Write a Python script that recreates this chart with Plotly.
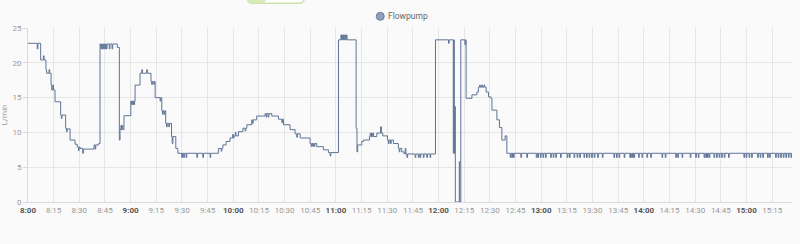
import pandas as pd
import plotly.graph_objects as go

# ---- data: minutes after 8:00 and flow (L/min), step changes ----
minutes = [
    0, 5.4, 5.8, 7.4, 9.0, 9.4, 10.5, 10.9, 12.3, 12.7,
    13.5, 13.9, 14.5, 14.9, 15.8, 19.1, 19.5, 19.9, 22.0, 22.5,
    22.9, 24.6, 27.5, 28.8, 29.5, 29.9, 30.4, 32.0, 32.4, 38.6,
    39.2, 39.6, 41.3, 42.1, 42.6, 43.0, 43.4, 43.8, 44.2, 44.6,
    45.0, 45.4, 45.8, 46.2, 47.5, 47.9, 49.1, 49.5, 52.2, 53.4,
    53.8, 54.3, 54.7, 55.0, 55.4, 56.1, 60.1, 60.5, 60.9, 61.3,
    61.7, 62.0, 62.3, 62.6, 65.5, 66.5, 66.9, 69.4, 69.8, 71.9,
    72.3, 72.7, 73.5, 73.9, 74.3, 77.2, 77.6, 78.2, 78.6, 79.0,
    79.6, 80.0, 80.5, 81.0, 81.4, 82.3, 82.7, 83.9, 84.3, 84.7,
    86.4, 87.6, 89.9, 90.3, 91.0, 91.4, 92.4, 92.8, 98.7, 99.1,
    102.2, 102.6, 106.4, 106.8, 111.3, 112.9, 113.3, 113.9, 115.8, 118.1,
    119.6, 120.0, 120.5, 121.2, 121.6, 123.0, 125.6, 126.9, 127.3, 127.9,
    130.8, 131.2, 131.6, 133.7, 138.6, 139.2, 139.6, 140.4, 140.8, 142.5,
    146.4, 148.4, 148.8, 149.3, 153.2, 156.1, 157.1, 157.5, 159.1, 164.9,
    165.5, 165.9, 166.4, 166.8, 167.3, 167.7, 168.8, 172.7, 175.6, 176.6,
    177.0, 181.5, 182.9, 183.3, 183.7, 184.1, 184.5, 184.9, 185.3, 185.7,
    186.1, 186.5, 191.8, 192.3, 192.7, 195.1, 196.1, 199.6, 200.0, 200.4,
    200.8, 201.2, 201.6, 202.0, 203.9, 206.1, 206.6, 207.4, 210.1, 210.7,
    211.1, 211.9, 212.3, 213.6, 216.5, 217.0, 217.4, 218.5, 219.9, 220.5,
    220.9, 221.5, 221.9, 226.3, 226.7, 228.2, 228.6, 229.2, 229.6, 231.1,
    231.5, 233.1, 233.5, 235.0, 235.4, 238.2, 245.8, 246.2, 248.6, 248.9,
    249.2, 249.5, 249.8, 252.1, 252.4, 253.0, 255.4, 255.8, 256.1, 259.5,
    262.4, 263.3, 264.0, 264.4, 265.2, 265.6, 266.5, 266.9, 267.8, 269.2,
    270.6, 271.2, 274.1, 275.6, 277.0, 278.9, 279.9, 281.9, 282.3, 282.8,
    283.2, 283.8, 284.2, 288.1, 288.5, 291.6, 292.0, 297.1, 297.5, 298.0,
    298.4, 299.5, 299.9, 301.0, 301.4, 302.5, 302.9, 305.5, 305.9, 307.0,
    307.4, 308.5, 308.9, 311.3, 311.7, 315.2, 315.6, 316.5, 316.9, 319.2,
    319.6, 321.0, 321.4, 322.5, 322.9, 325.0, 325.4, 326.5, 326.9, 328.0,
    328.4, 329.5, 329.9, 331.0, 331.4, 333.0, 333.4, 335.7, 336.1, 342.5,
    342.9, 344.0, 344.4, 345.5, 345.9, 348.5, 348.9, 351.8, 352.2, 352.6,
    353.0, 353.4, 353.8, 354.2, 354.6, 356.9, 357.3, 358.9, 359.3, 361.8,
    362.2, 364.0, 364.4, 370.6, 371.0, 372.5, 372.9, 378.6, 379.0, 379.8,
    380.2, 382.3, 382.7, 387.1, 387.5, 390.3, 390.7, 391.8, 392.2, 395.2,
    395.6, 396.2, 396.6, 397.2, 397.6, 398.2, 398.6, 401.0, 401.4, 402.5,
    402.9, 404.0, 404.4, 405.5, 405.9, 407.0, 407.4, 409.5, 409.9, 418.5,
    418.9, 419.8, 420.2, 421.5, 421.9, 423.0, 423.4, 426.5, 426.9, 428.0,
    428.4, 429.5, 429.9, 432.3, 432.7, 433.5, 433.9, 437.0, 437.4, 438.5,
    438.9, 440.0, 440.4, 441.5, 441.9, 443.0, 443.4, 444.5, 444.9, 446.0,
    446.4, 446.6,
]
flow = [
    22.8, 22.0, 22.8, 20.4, 21.0, 20.4, 19.0, 18.5, 19.0, 18.5,
    16.8, 16.1, 16.8, 16.1, 14.4, 12.5, 12.0, 12.5, 10.6, 10.1,
    10.5, 8.9, 8.3, 7.9, 7.4, 7.9, 7.7, 7.0, 7.6, 8.2,
    7.6, 8.2, 8.4, 22.7, 22.0, 22.7, 22.0, 22.7, 22.0, 22.7,
    22.0, 22.7, 22.0, 22.7, 22.0, 22.7, 22.0, 22.7, 22.2, 8.9,
    10.4, 11.0, 10.4, 11.0, 10.4, 12.4, 14.5, 14.0, 14.5, 14.0,
    14.5, 14.0, 14.5, 16.8, 18.5, 19.0, 18.5, 19.0, 18.5, 17.3,
    16.9, 17.3, 16.9, 17.3, 15.0, 14.5, 15.0, 13.1, 12.6, 13.1,
    12.6, 13.1, 11.3, 10.8, 11.3, 10.8, 11.3, 9.4, 8.4, 9.4,
    7.7, 7.0, 6.4, 7.0, 6.4, 7.0, 6.4, 7.0, 6.4, 7.0,
    6.4, 7.0, 6.4, 7.0, 7.7, 7.3, 7.7, 8.2, 8.7, 9.2,
    9.7, 9.2, 9.5, 10.0, 9.5, 10.1, 10.6, 10.2, 10.6, 11.1,
    11.8, 11.3, 11.8, 12.35, 12.7, 12.2, 12.7, 12.2, 12.7, 12.35,
    11.9, 11.4, 11.9, 11.1, 10.4, 9.8, 9.3, 9.8, 9.2, 8.4,
    8.0, 8.4, 8.0, 8.4, 8.0, 8.4, 7.95, 7.5, 7.1, 6.6,
    7.1, 23.3, 24.0, 23.3, 24.0, 23.3, 24.0, 23.3, 24.0, 23.3,
    24.0, 23.3, 10.6, 7.2, 8.2, 8.7, 8.9, 9.4, 9.9, 9.4,
    9.9, 9.4, 9.9, 9.4, 9.9, 10.8, 9.9, 9.5, 8.9, 8.4,
    8.9, 8.4, 8.9, 8.4, 7.7, 7.2, 7.7, 7.2, 6.9, 7.7,
    6.9, 6.4, 6.9, 6.4, 6.9, 6.4, 6.9, 6.4, 6.9, 6.4,
    6.9, 6.4, 6.9, 6.4, 6.9, 23.3, 22.8, 23.3, 7.0, 23.3,
    7.0, 13.7, 0.0, 5.8, 0.0, 23.3, 22.6, 23.3, 14.9, 15.4,
    15.8, 16.5, 16.8, 16.5, 16.8, 16.5, 16.8, 16.5, 15.8, 15.1,
    14.9, 13.2, 11.8, 10.7, 8.9, 9.5, 7.0, 6.4, 7.0, 6.4,
    7.0, 6.4, 7.0, 6.4, 7.0, 6.4, 7.0, 6.4, 7.0, 6.4,
    7.0, 6.4, 7.0, 6.4, 7.0, 6.4, 7.0, 6.4, 7.0, 6.4,
    7.0, 6.4, 7.0, 6.4, 7.0, 6.4, 7.0, 6.4, 7.0, 6.4,
    7.0, 6.4, 7.0, 6.4, 7.0, 6.4, 7.0, 6.4, 7.0, 6.4,
    7.0, 6.4, 7.0, 6.4, 7.0, 6.4, 7.0, 6.4, 7.0, 6.4,
    7.0, 6.4, 7.0, 6.4, 7.0, 6.4, 7.0, 6.4, 7.0, 6.4,
    7.0, 6.4, 7.0, 6.4, 7.0, 6.4, 7.0, 6.4, 7.0, 6.4,
    7.0, 6.4, 7.0, 6.4, 7.0, 6.4, 7.0, 6.4, 7.0, 6.4,
    7.0, 6.4, 7.0, 6.4, 7.0, 6.4, 7.0, 6.4, 7.0, 6.4,
    7.0, 6.4, 7.0, 6.4, 7.0, 6.4, 7.0, 6.4, 7.0, 6.4,
    7.0, 6.4, 7.0, 6.4, 7.0, 6.4, 7.0, 6.4, 7.0, 6.4,
    7.0, 6.4, 7.0, 6.4, 7.0, 6.4, 7.0, 6.4, 7.0, 6.4,
    7.0, 6.4, 7.0, 6.4, 7.0, 6.4, 7.0, 6.4, 7.0, 6.4,
    7.0, 6.4, 7.0, 6.4, 7.0, 6.4, 7.0, 6.4, 7.0, 6.4,
    7.0, 7.0,
]
assert len(minutes) == len(flow), (len(minutes), len(flow))

series_name = "Flowpump"
y_title = "L/min"
y_ticks = [0, 5, 10, 15, 20, 25]
x_tick_minutes = list(range(0, 436, 15))
x_end_minutes = 446.6

base = pd.Timestamp("2024-01-01 08:00:00")
times = [base + pd.Timedelta(minutes=m) for m in minutes]

tick_vals = [base + pd.Timedelta(minutes=m) for m in x_tick_minutes]
tick_text = []
for m in x_tick_minutes:
    h, mm = 8 + m // 60, m % 60
    if mm == 0:
        tick_text.append(f'<b><span style="color:#555">{h}:00</span></b>')
    else:
        tick_text.append(f"{h}:{mm:02d}")

LINE = "#5f7497"
fig = go.Figure()
fig.add_trace(go.Scatter(
    x=times, y=flow, mode="lines", line=dict(color=LINE, width=1, shape="hv"),
    name=series_name, showlegend=False, hoverinfo="skip",
))

fig.update_layout(
    width=800, height=244,
    margin=dict(l=28, r=8, t=28, b=42, autoexpand=False),
    paper_bgcolor="#fafafa", plot_bgcolor="#fafafa",
    font=dict(family="Roboto, sans-serif", size=9, color="#999"),
    showlegend=False,
    xaxis=dict(
        type="date",
        range=[base, base + pd.Timedelta(minutes=x_end_minutes)],
        tickvals=tick_vals, ticktext=tick_text,
        showgrid=True, gridcolor="#e6e6e6", gridwidth=1,
        showline=True, linecolor="#d9d9d9", linewidth=1,
        ticks="", tickfont=dict(size=8, color="#999"),
        zeroline=False,
    ),
    yaxis=dict(
        range=[0, 25], tickvals=y_ticks,
        showgrid=True, gridcolor="#e6e6e6", gridwidth=1,
        showline=True, linecolor="#d9d9d9", linewidth=1,
        ticks="outside", ticklen=4, tickcolor="#d9d9d9",
        tickfont=dict(size=8, color="#999"),
        title=dict(text=y_title, font=dict(size=8, color="#999"), standoff=6),
        zeroline=False,
    ),
    shapes=[
        # partially visible toggle control at the top
        dict(type="path", xref="paper", yref="paper",
             path="M 0.294,1.22 L 0.355,1.22 Q 0.362,1.22 0.362,1.18 Q 0.362,1.142 0.355,1.142 L 0.294,1.142 Q 0.287,1.142 0.287,1.18 Q 0.287,1.22 0.294,1.22 Z",
             line=dict(color="#cfe3ae", width=1.5), fillcolor="#ffffff", layer="above"),
        dict(type="path", xref="paper", yref="paper",
             path="M 0.294,1.22 L 0.305,1.22 Q 0.312,1.22 0.312,1.18 Q 0.312,1.142 0.305,1.142 L 0.294,1.142 Q 0.287,1.142 0.287,1.18 Q 0.287,1.22 0.294,1.22 Z",
             line=dict(width=0), fillcolor="#d6eab8", layer="above"),
        # legend marker
        dict(type="circle", xref="paper", yref="paper",
             xsizemode="pixel", ysizemode="pixel",
             xanchor=0.4611, yanchor=1.067, x0=-4, x1=4, y0=-4, y1=4,
             fillcolor="#8e9fbc", line=dict(color="#6a7d9f", width=1)),
    ],
    annotations=[dict(
        text=series_name, xref="paper", yref="paper", x=0.4692, y=1.067,
        xanchor="left", yanchor="middle", showarrow=False,
        font=dict(size=8.5, color="#666"),
    )],
)

fig.write_html("out.html")
